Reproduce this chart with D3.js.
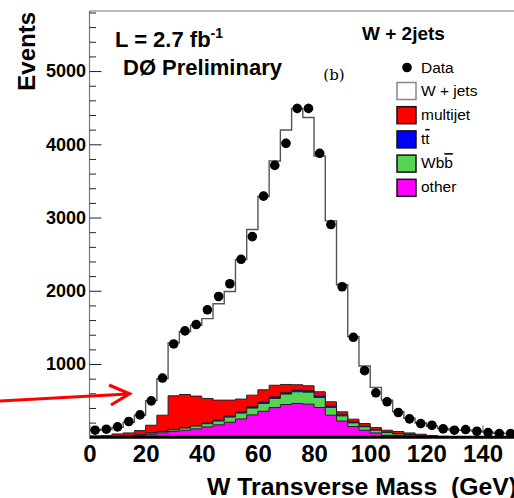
<html>
<head>
<script src="https://d3js.org/d3.v7.min.js"></script>
<style>
body{margin:0;background:#fff;}
svg{display:block;font-family:"Liberation Sans",Arial,sans-serif;}
</style>
</head>
<body>
<div id="chart"></div>
<script>
// bin low edges (GeV), 4 GeV wide
const binEdges = [0,4,8,12,16,20,24,28,32,36,40,44,48,52,56,60,64,68,72,76,
  80,84,88,92,96,100,104,108,112,116,120,124,128,132,136,140,144,148];
const binWidth = 4;

const dataCounts = [96,110,141,215,305,497,808,1274,1452,1539,1740,1922,2096,2430,2740,3292,3712,4014,4489,4489,
  3877,2904,2055,1365,909,607,484,338,251,187,164,114,96,105,82,64,50,50];

// stacked backgrounds, per bin (not cumulative)
const other    = [2,3,6,12,20,40,60,80,96,114,141,169,205,250,305,355,405,447,461,452,
  406,301,222,146,96,59,27,22,18,5,0,0,1,0,0,0,0,0];
const wbb      = [2,3,4,6,10,18,18,22,30,38,44,53,70,80,93,106,125,142,160,164,
  138,106,70,50,46,37,37,23,14,18,10,6,5,4,3,2,2,1];
const ttbar    = [1,1,1,2,2,4,4,5,6,7,10,12,13,15,17,19,22,23,24,23,
  20,18,16,14,12,10,8,6,5,4,3,2,2,2,1,1,1,1];
const multijet = [13,15,34,39,59,102,219,459,452,403,335,273,219,176,160,168,158,109,72,64,
  57,59,39,37,33,26,24,27,22,14,10,4,2,2,3,3,2,3];
const wjets    = [77,83,90,146,209,336,499,722,859,968,1090,1315,1483,1904,2261,2640,3062,3475,3772,3662,
  3219,2471,1735,1127,786,549,411,272,201,154,127,108,90,87,78,64,50,45];

const yMajor = [1000,2000,3000,4000,5000];
const xMajor = [0,20,40,60,80,100,120,140];

const legendItems = [
  {label:"W + jets", fill:"#ffffff", stroke:"#888"},
  {label:"multijet", fill:"#ff0000", stroke:"#111"},
  {label:"t", bar:"t", fill:"#0000ff", stroke:"#111"},
  {label:"Wb", bar:"b", fill:"#55d455", stroke:"#111"},
  {label:"other", fill:"#ff00ff", stroke:"#111"}
];

const W = 514, H = 498;
const x = d3.scaleLinear().domain([0,160]).range([89.5, 89.5 + 160*2.807]);
const y = d3.scaleLinear().domain([0,5820]).range([437.25, 11]);

const svg = d3.select("#chart").append("svg").attr("width",W).attr("height",H);

// cumulative stack layers
const cum = (arrs) => binEdges.map((e,i)=>arrs.reduce((s,a)=>s+a[i],0));
const layers = [
  {vals:cum([other,wbb,ttbar,multijet,wjets]), fill:"#ffffff", stroke:"#555", sw:1.4},
  {vals:cum([other,wbb,ttbar,multijet]), fill:"#ff0000", stroke:"#222", sw:1},
  {vals:cum([other,wbb,ttbar]), fill:"#0000ff", stroke:"#222", sw:1},
  {vals:cum([other,wbb]), fill:"#55d455", stroke:"#222", sw:1},
  {vals:cum([other]), fill:"#ff00ff", stroke:"#222", sw:1}
];

// frame
svg.append("line").attr("x1",x(0)).attr("x2",W).attr("y1",11).attr("y2",11)
  .attr("stroke","#777").attr("stroke-width",1.2);

// x axis (ticks sit under the histograms)
const xAxis = svg.append("g").attr("transform",`translate(0,${y(0)})`)
  .call(d3.axisBottom(x).tickValues(xMajor).tickSize(-12).tickPadding(8).tickFormat(d3.format("d")));
xAxis.select(".domain").remove();
xAxis.selectAll("line").attr("stroke","#666");
xAxis.selectAll("text").attr("font-size",24).attr("font-weight","bold")
  .attr("font-family","Liberation Sans, Arial, sans-serif").attr("fill","#000");

const stepPts = vals => binEdges.map((e,i)=>[e, vals[i]])
  .concat([[binEdges[binEdges.length-1]+binWidth, vals[vals.length-1]]]);
const area = d3.area().curve(d3.curveStepAfter)
  .x(d=>x(d[0])).y0(y(0)).y1(d=>y(d[1]));

svg.append("defs").append("clipPath").attr("id","plot")
  .append("rect").attr("x",x(0)).attr("y",11).attr("width",W-x(0)).attr("height",y(0)-11);

const plot = svg.append("g").attr("clip-path","url(#plot)");
layers.forEach(l=>{
  plot.append("path").datum(stepPts(l.vals))
    .attr("d",area).attr("fill",l.fill).attr("stroke",l.stroke).attr("stroke-width",l.sw)
    .attr("stroke-linejoin","miter");
});

// baseline
svg.append("line").attr("x1",x(0)).attr("x2",W).attr("y1",y(0)).attr("y2",y(0))
  .attr("stroke","#000").attr("stroke-width",3);

// y axis
svg.append("line").attr("x1",x(0)).attr("x2",x(0)).attr("y1",11).attr("y2",y(0))
  .attr("stroke","#777").attr("stroke-width",1.2);
const yMinor = d3.range(200,5820,200).filter(v=>v%1000!==0);
const yMin = svg.append("g").attr("transform",`translate(${x(0)},0)`)
  .call(d3.axisLeft(y).tickValues(yMinor).tickSize(-6.5).tickFormat(""));
yMin.select(".domain").remove();
yMin.selectAll("line").attr("stroke","#222");
const yAx = svg.append("g").attr("transform",`translate(${x(0)},0)`)
  .call(d3.axisLeft(y).tickValues(yMajor).tickSize(-12).tickPadding(3.5).tickFormat(d3.format("d")));
yAx.select(".domain").remove();
yAx.selectAll("line").attr("stroke","#222");
yAx.selectAll("text").attr("font-size",18).attr("font-weight","bold")
  .attr("font-family","Liberation Sans, Arial, sans-serif").attr("fill","#000");

// data points
const pts = svg.append("g").attr("clip-path","url(#plot)");
pts.selectAll("line.err").data(dataCounts).enter().append("line")
  .attr("class","err")
  .attr("x1",(d,i)=>x(binEdges[i]+binWidth/2)).attr("x2",(d,i)=>x(binEdges[i]+binWidth/2))
  .attr("y1",d=>y(d+Math.sqrt(d))).attr("y2",d=>y(Math.max(0,d-Math.sqrt(d))))
  .attr("stroke","#000").attr("stroke-width",1);
pts.selectAll("circle").data(dataCounts).enter().append("circle")
  .attr("cx",(d,i)=>x(binEdges[i]+binWidth/2)).attr("cy",d=>y(d)).attr("r",4.8).attr("fill","#000");

// axis titles
svg.append("text").attr("transform","translate(35,12) rotate(-90)")
  .attr("text-anchor","end").attr("font-size",24).attr("font-weight","bold").text("Events");
svg.append("text").attr("x",207).attr("y",495).attr("font-size",24.8).attr("font-weight","bold")
  .style("white-space","pre").text("W Transverse Mass  (GeV)");

// labels
const lum = svg.append("text").attr("x",115).attr("y",47).attr("font-size",22).attr("font-weight","bold");
lum.append("tspan").text("L = 2.7 fb");
lum.append("tspan").attr("font-size",14).attr("dy",-9).text("-1");
svg.append("text").attr("x",123).attr("y",75).attr("font-size",22).attr("font-weight","bold").text("DØ Preliminary");
svg.append("text").attr("x",334).attr("y",80).attr("text-anchor","middle")
  .attr("font-family","DejaVu Serif, serif").attr("font-size",15).text("(b)");
svg.append("text").attr("x",362).attr("y",40).attr("font-size",19).attr("font-weight","bold").text("W + 2jets");

// legend
svg.append("circle").attr("cx",407).attr("cy",67.5).attr("r",4.8).attr("fill","#000");
svg.append("text").attr("x",421).attr("y",73).attr("font-size",15.5).text("Data");
const lg = svg.append("g");
legendItems.forEach((it,i)=>{
  const top = 82.5 + i*24.2;
  lg.append("rect").attr("x",397).attr("y",top).attr("width",19).attr("height",17)
    .attr("fill",it.fill).attr("stroke",it.stroke).attr("stroke-width",1.5);
  const t = lg.append("text").attr("x",421).attr("y",top+13).attr("font-size",15.5);
  t.append("tspan").text(it.label);
  if(it.bar){
    t.append("tspan").style("text-decoration","overline").text(it.bar);
  }
});

// red arrow
svg.append("line").attr("x1",0).attr("y1",401).attr("x2",128).attr("y2",394)
  .attr("stroke","#ff0000").attr("stroke-width",3);
svg.append("polyline").attr("points","109,385 129.5,393.8 111,405")
  .attr("fill","none").attr("stroke","#ff0000").attr("stroke-width",3.2);
</script>
</body>
</html>
